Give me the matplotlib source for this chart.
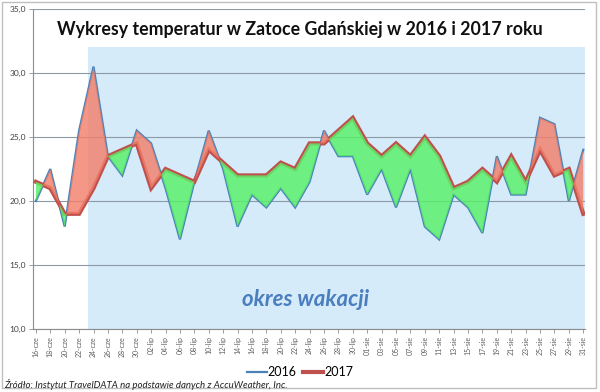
import matplotlib
matplotlib.use("Agg")
import matplotlib.pyplot as plt
import numpy as np
from matplotlib.lines import Line2D
from matplotlib.patches import Rectangle

plt.rcParams['font.family'] = ['Lato', 'DejaVu Sans']

dates = ["16-cze", "18-cze", "20-cze", "22-cze", "24-cze", "26-cze", "28-cze", "30-cze",
         "02-lip", "04-lip", "06-lip", "08-lip", "10-lip", "12-lip", "14-lip", "16-lip",
         "18-lip", "20-lip", "22-lip", "24-lip", "26-lip", "28-lip", "30-lip",
         "01-sie", "03-sie", "05-sie", "07-sie", "09-sie", "11-sie", "13-sie", "15-sie",
         "17-sie", "19-sie", "21-sie", "23-sie", "25-sie", "27-sie", "29-sie", "31-sie"]

t2016 = [20.0, 22.5, 18.0, 25.5, 30.5, 23.5, 22.0, 25.5,
         24.5, 21.0, 17.0, 21.5, 25.5, 22.5, 18.0, 20.5,
         19.5, 21.0, 19.5, 21.5, 25.5, 23.5, 23.5,
         20.5, 22.5, 19.5, 22.5, 18.0, 17.0, 20.5, 19.5,
         17.5, 23.5, 20.5, 20.5, 26.5, 26.0, 20.0, 24.0]

t2017 = [21.5, 21.0, 19.0, 19.0, 21.0, 23.5, 24.0, 24.5,
         21.0, 22.5, 22.0, 21.5, 24.0, 23.0, 22.0, 22.0,
         22.0, 23.0, 22.5, 24.5, 24.5, 25.5, 26.5,
         24.5, 23.5, 24.5, 23.5, 25.0, 23.5, 21.0, 21.5,
         22.5, 21.5, 23.5, 21.5, 24.0, 22.0, 22.5, 19.0]

vacation_start = 3.6   # between 22-cze and 24-cze
vacation_top = 32.0

title = "Wykresy temperatur w Zatoce Gdańskiej w 2016 i 2017 roku"
source = "Źródło: Instytut TravelDATA na podstawie danych z AccuWeather, Inc."

x = np.arange(len(dates))
a = np.array(t2016)
b = np.array(t2017)

fig = plt.figure(figsize=(6.0, 3.92), dpi=100)
ax = fig.add_axes([33/600, 1-329/392, (585-33)/600, (329-9)/392])

xmin, xmax = -0.2, 38.12
ax.set_xlim(xmin, xmax)
ax.set_ylim(10, 35)

# vacation region
ax.fill_between([vacation_start, xmax], 10, vacation_top, color="#d5ebfa", lw=0, zorder=0)

# grid
ax.set_yticks(np.arange(10, 36, 5))
ax.set_yticklabels([f"{v:.1f}".replace(".", ",") for v in np.arange(10, 36, 5)],
                   fontsize=6, color="#404040")
ax.yaxis.grid(True, color="#8c9aa6", lw=0.8, zorder=1)
ax.set_axisbelow(False)

# lines
ax.plot(x, a, color="#4a82b8", lw=1.6, zorder=3, solid_joinstyle="miter")
ax.plot(x, b, color="#c0504d", lw=3.0, zorder=3, solid_joinstyle="miter")

# fills
ax.fill_between(x, a, b, where=b >= a, interpolate=True, color="#58f068", alpha=0.82, lw=0, zorder=4)
ax.fill_between(x, a, b, where=a >= b, interpolate=True, color="#f2806b", alpha=0.82, lw=0, zorder=4)

ax.set_xticks(x)
ax.set_xticklabels(dates, rotation=90, fontsize=5.0, color="#606060")
ax.tick_params(axis="x", length=3, width=0.6, color="#8c8c8c", pad=2)
ax.tick_params(axis="y", length=3, width=0.6, color="#8c8c8c", pad=2)

for s in ["top", "right"]:
    ax.spines[s].set_visible(False)
for s in ["left", "bottom"]:
    ax.spines[s].set_color("#8c8c8c")
    ax.spines[s].set_linewidth(0.8)

fig.text(0.5, 1-30/392, title, ha="center", va="center",
         fontsize=12.8, fontweight="bold", color="#101010", zorder=6)
fig.text(306/600, 1-300/392, "okres wakacji", ha="center", va="center",
         fontsize=16, fontweight="bold", fontstyle="italic", color="#4a7ebf", zorder=6)

handles = [Line2D([], [], color="#4a82b8", lw=1.6), Line2D([], [], color="#c0504d", lw=3.0)]
fig.legend(handles, ["2016", "2017"], loc="center", bbox_to_anchor=(0.5, 1-372/392),
           ncol=2, frameon=False, fontsize=9, handlelength=1.6, handletextpad=0.1,
           columnspacing=0.5, borderpad=0)

fig.text(4/600, 1-384/392, source, fontsize=6.9, fontstyle="italic", color="#202020",
         ha="left", va="center")

fig.patches.append(Rectangle((2/600, 1-388/392), 594/600, 386/392, transform=fig.transFigure,
                             fill=False, edgecolor="#c0c0c0", lw=1.0))

fig.savefig("out.png", dpi=100)
